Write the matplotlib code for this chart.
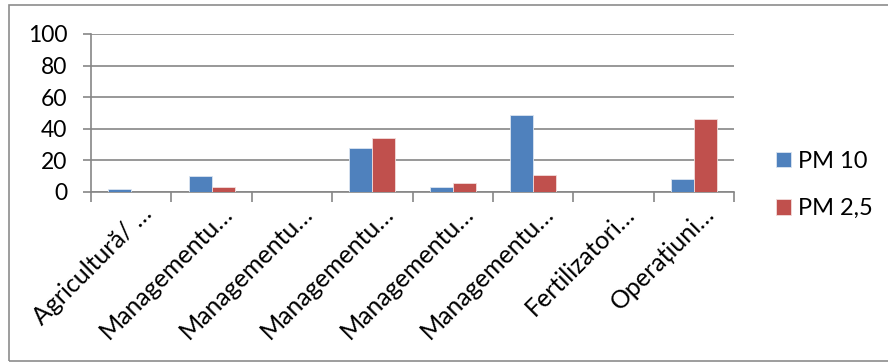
import matplotlib
matplotlib.use("Agg")
import matplotlib.pyplot as plt
from matplotlib.patches import Rectangle
import matplotlib.transforms as mtransforms
import numpy as np

categories = ["Agricultură/ …", "Managementu…", "Managementu…", "Managementu…",
              "Managementu…", "Managementu…", "Fertilizatori…", "Operațiuni…"]
pm10 = [1.7, 10, 0.3, 28, 3, 49, 0, 8]
pm25 = [0.2, 3, 0.1, 34, 6, 10.5, 0, 46]
series_names = ["PM 10", "PM 2,5"]
yticks = [0, 20, 40, 60, 80, 100]

plt.rcParams["font.family"] = ["Lato", "DejaVu Sans"]

W, H = 888, 362
fig = plt.figure(figsize=(W / 100, H / 100), dpi=100)

# outer chart frame
fig.patches.append(Rectangle((9 / W, 1 - 360.5 / H), 1.2, (360.5 - 4.5) / H,
                             transform=fig.transFigure, fill=False,
                             edgecolor="#8c8c8c", linewidth=1.2))

ax = fig.add_axes([91 / W, 1 - 192 / H, (734 - 91) / W, (192 - 34) / H])

n = len(categories)
x = np.arange(n)
gap = 1.5
bw = 1 / (2 + gap)
b1 = ax.bar(x - bw / 2, pm10, width=bw, color="#4F81BD", edgecolor="#dbe5f1",
            linewidth=0.6, label=series_names[0], zorder=3)
b2 = ax.bar(x + bw / 2, pm25, width=bw, color="#C0504D", edgecolor="#f2dcdb",
            linewidth=0.6, label=series_names[1], zorder=3)

ax.set_xlim(-0.5, n - 0.5)
ax.set_ylim(0, 100)
ax.set_yticks(yticks)
ax.set_yticklabels([str(v) for v in yticks], fontsize=16.5)
ax.grid(axis="y", color="#868686", linewidth=1.2, zorder=0)
ax.set_axisbelow(True)

for s in ["top", "right"]:
    ax.spines[s].set_visible(False)
for s in ["left", "bottom"]:
    ax.spines[s].set_color("#868686")
    ax.spines[s].set_linewidth(1.2)

ax.tick_params(axis="y", length=6, width=1.2, color="#868686", pad=11)

# category separators as major ticks, category names as rotated minor labels
ax.set_xticks(np.arange(n + 1) - 0.5, minor=False)
ax.set_xticklabels([])
ax.tick_params(axis="x", length=7, width=1.2, color="#868686")
ax.set_xticks(x, minor=True)
ax.set_xticklabels(categories, minor=True, rotation=45, ha="right",
                   va="top", rotation_mode="anchor", fontsize=18)
ax.tick_params(axis="x", which="minor", length=0, pad=7)
shift = mtransforms.ScaledTranslation(9 / 100, 0, fig.dpi_scale_trans)
for lab in ax.get_xticklabels(minor=True):
    lab.set_transform(lab.get_transform() + shift)

leg = ax.legend(handles=[b1, b2], loc="center left", bbox_to_anchor=(1.0315, 0.045),
                frameon=False, fontsize=17, handlelength=0.64, handleheight=0.64,
                handletextpad=0.3, labelspacing=1.12, borderpad=0.4)

fig.savefig("out.png", dpi=100)
